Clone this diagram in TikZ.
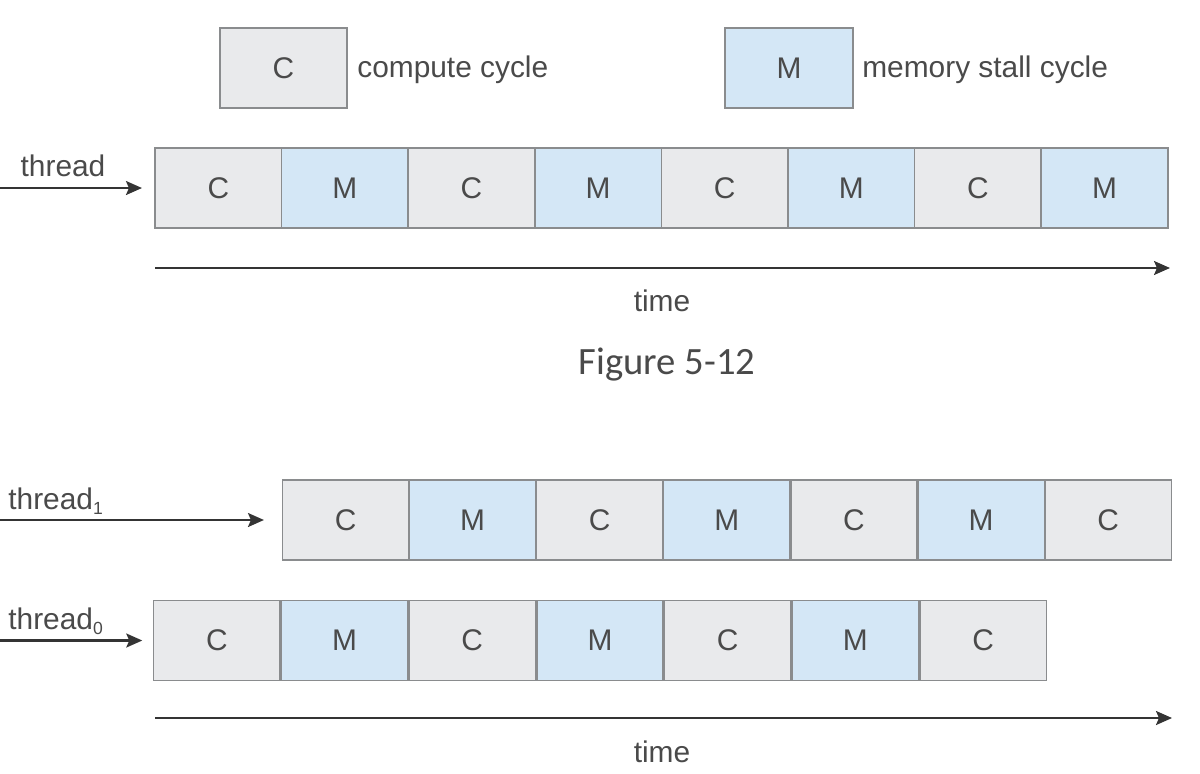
\documentclass[tikz,border=0pt]{standalone}
\usepackage{fontspec}
\setmainfont{Liberation Sans}
\newfontfamily\capfont{Carlito}
\usetikzlibrary{positioning}
\usetikzlibrary{arrows.meta}

\definecolor{cfill}{HTML}{E9EAEC}
\definecolor{mfill}{HTML}{D4E7F6}
\definecolor{edge}{HTML}{8A8C8E}
\definecolor{ink}{HTML}{4A4A4A}
\newcommand{\thr}[1]{thread\raisebox{-0.35ex}{\fontsize{10}{10}\selectfont #1}}

\begin{document}
\begin{tikzpicture}[x=0.02cm, y=-0.02cm,
  cyc/.style={draw=edge, line width=0.9pt, minimum width=2.53cm, minimum height=1.6cm,
    inner sep=0pt, text=ink, font=\fontsize{17}{20}\selectfont},
  C/.style={cyc, fill=cfill},
  M/.style={cyc, fill=mfill},
  lbl/.style={text=ink, font=\fontsize{17}{20}\selectfont, inner sep=0pt},
  arr/.style={draw=ink!70!black, line width=1.2pt, -{Stealth[length=3.2mm, width=2.8mm, inset=0.6mm]}}]
\useasboundingbox (0,0) rectangle (1200,774);
\def\w{126.6}

% legend
\node[C, minimum width=2.54cm] (legC) at (283.5,68) {C};
\node[lbl, anchor=west] (legCt) at (357,70) {compute cycle};
\node[M, minimum width=2.56cm] (legM) at (789,68) {M};
\node[lbl, anchor=west] (legMt) at (862,70) {memory stall cycle};

% single thread
\foreach \i/\t in {1/C,2/M,3/C,4/M,5/C,6/M,7/C,8/M}
  \node[\t] (a\i) at ({155+\w*(\i-0.5)},188) {\t};
\coordinate (aS) at (0,188);
\draw[arr, shorten >=7pt] (aS) -- (a1.west);
\node[lbl] (aL) at (63,166) {thread};

\coordinate (t1S) at (155,268);
\coordinate (t1E) at (1170,268);
\draw[arr] (t1S) -- (t1E);
\node[lbl] (t1L) at (662,301) {time};

\node[text=ink, font=\capfont\fontsize{22}{26}\selectfont] (fig) at (667,365) {Figure 5-12};

% two threads
\foreach \i/\t in {1/C,2/M,3/C,4/M,5/C,6/M,7/C}
  \node[\t] (b\i) at ({282+127.1*(\i-0.5)},520) {\t};
\coordinate (bS) at (0,520);
\draw[arr, shorten >=10pt] (bS) -- (b1.west);
\node[lbl, anchor=base west] (bL) at (8,509) {\thr{1}};

\foreach \i/\t in {1/C,2/M,3/C,4/M,5/C,6/M,7/C}
  \node[\t] (c\i) at ({153+127.7*(\i-0.5)},640.5) {\t};
\coordinate (cS) at (0,640.5);
\draw[arr, shorten >=6pt] (cS) -- (c1.west);
\node[lbl, anchor=base west] (cL) at (8,629) {\thr{0}};

\coordinate (t2S) at (155,718);
\coordinate (t2E) at (1172,718);
\draw[arr] (t2S) -- (t2E);
\node[lbl] (t2L) at (662,752) {time};
\end{tikzpicture}
\end{document}
